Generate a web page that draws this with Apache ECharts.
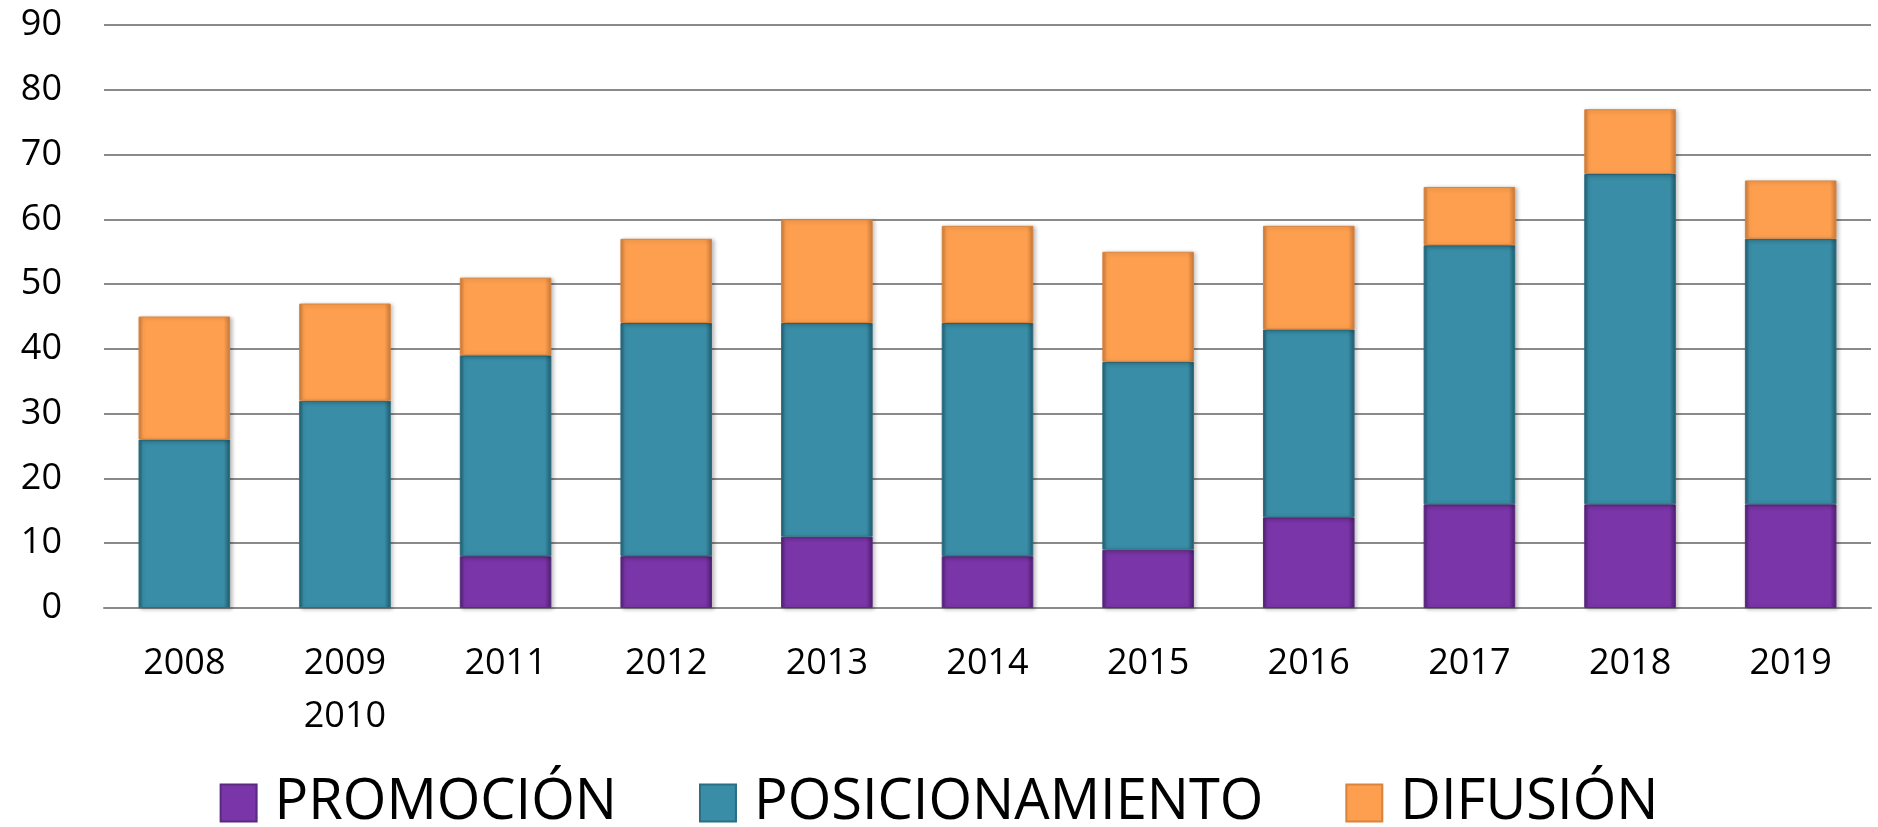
<!DOCTYPE html>
<html>
<head>
<meta charset="utf-8">
<script src="https://cdn.jsdelivr.net/npm/echarts@6/dist/echarts.min.js"></script>
<style>
html,body{margin:0;padding:0;background:#fff;}
#chart{width:1878px;height:827px;}
</style>
</head>
<body>
<div id="chart"></div>
<script>
const categories = ['2008','2009\n2010','2011','2012','2013','2014','2015','2016','2017','2018','2019'];
const promocion = [0,0,8,8,11,8,9,14,16,16,16];
const posicionamiento = [26,32,31,36,33,36,29,29,40,51,41];
const difusion = [19,15,12,13,16,15,17,16,9,10,9];
const yTicks = {min:0, max:90, interval:10};

const FONT = '"Open Sans", "Noto Sans", sans-serif';

function bevel(dark, base){
  return new echarts.graphic.LinearGradient(0,0,1,0,[
    {offset:0,color:dark},{offset:0.05,color:base},
    {offset:0.93,color:base},{offset:1,color:dark}
  ]);
}
function mkSeries(name, data, dark, base, border){
  return {
    name, type:'bar', stack:'total',
    data: data.map(v => v === 0 ? '-' : v),
    barWidth:'57%',
    itemStyle:{
      color:bevel(dark, base),
      borderColor:border, borderWidth:1,
      shadowColor:'rgba(0,0,0,0.25)', shadowBlur:4, shadowOffsetX:2, shadowOffsetY:1
    },
    emphasis:{disabled:true}
  };
}

const chart = echarts.init(document.getElementById('chart'), null, {renderer:'canvas'});
chart.setOption({
  animation:false,
  grid:{left:104, right:7, top:25, bottom:219, containLabel:false},
  legend:{
    bottom:-9, left:'center', icon:'rect',
    itemWidth:36, itemHeight:37, itemGap:82,
    textStyle:{fontFamily:FONT, fontSize:56, color:'#000', padding:[0,0,0,13]},
    data:['PROMOCIÓN','POSICIONAMIENTO','DIFUSIÓN']
  },
  xAxis:{
    type:'category', data:categories,
    axisLine:{lineStyle:{color:'#8a8a8a', width:2}},
    axisTick:{show:false},
    axisLabel:{fontFamily:FONT, fontSize:36, color:'#000', margin:29, lineHeight:53, interval:0}
  },
  yAxis:{
    type:'value', min:yTicks.min, max:yTicks.max, interval:yTicks.interval,
    axisLine:{show:false}, axisTick:{show:false},
    axisLabel:{fontFamily:FONT, fontSize:36, color:'#000', margin:42},
    splitLine:{lineStyle:{color:'#8a8a8a', width:2}}
  },
  series:[
    mkSeries('PROMOCIÓN', promocion, '#4e1f70', '#7a35a8', '#5a2a80'),
    mkSeries('POSICIONAMIENTO', posicionamiento, '#1f5a6c', '#398da6', '#2b6f84'),
    mkSeries('DIFUSIÓN', difusion, '#c8783a', '#fd9f4e', '#d9843e')
  ]
});
</script>
</body>
</html>
